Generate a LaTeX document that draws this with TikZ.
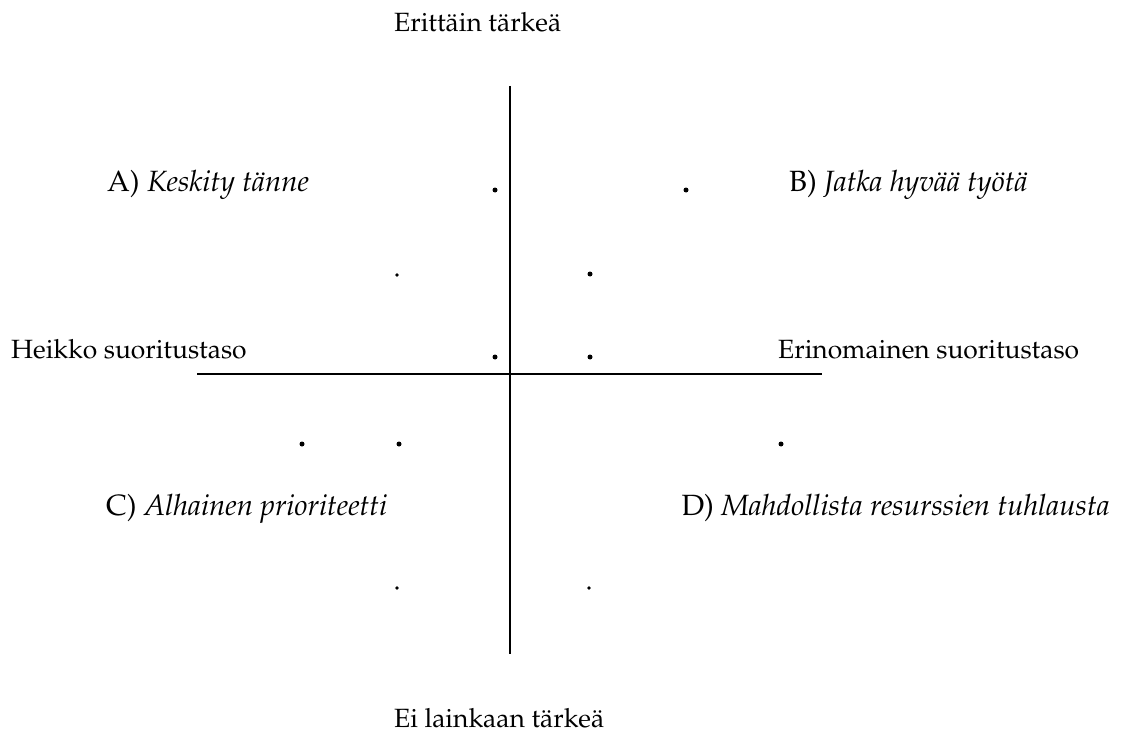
\documentclass[tikz,border=0pt]{standalone}
\usepackage[T1]{fontenc}
\usepackage{mathpazo}
\begin{document}
\begin{tikzpicture}[x=1pt,y=-1pt,
  axislbl/.style={inner sep=0pt, font=\fontsize{26.4}{31}\selectfont},
  quadlbl/.style={inner sep=0pt, font=\fontsize{29.3}{35}\selectfont},
  axisline/.style={line width=1.6pt, black},
  bigdot/.style={circle, fill=black, inner sep=0pt, minimum size=5pt},
  smalldot/.style={circle, fill=black, inner sep=0pt, minimum size=3.8pt}]
\useasboundingbox (0,0) rectangle (1122,733);

% axes
\coordinate (vtop) at (510,86);
\coordinate (vbot) at (510,654);
\coordinate (hleft) at (197,374);
\coordinate (hright) at (822,374);
\draw[axisline] (vtop) -- (vbot);
\draw[axisline] (hleft) -- (hright);

% axis labels
\node[axislbl, anchor=base west] (top) at (394,32) {Erittäin tärkeä};
\node[axislbl, anchor=base west] (bottom) at (394,727) {Ei lainkaan tärkeä};
\node[axislbl, anchor=base west] (left) at (11,358) {Heikko suoritustaso};
\node[axislbl, anchor=base west] (right) at (778,358) {Erinomainen suoritustaso};

% quadrant labels
\node[quadlbl, anchor=base west] (qa) at (107,191) {A) \textit{Keskity tänne}};
\node[quadlbl, anchor=base west] (qb) at (789,191) {B) \textit{Jatka hyvää työtä}};
\node[quadlbl, anchor=base west] (qc) at (106,515) {C) \textit{Alhainen prioriteetti}};
\node[quadlbl, anchor=base east] (qd) at (1110,515) {D) \textit{Mahdollista resurssien tuhlausta}};

% data points
\node[bigdot] (p1) at (495,190) {};
\node[bigdot] (p2) at (686,190) {};
\node[smalldot] (p3) at (397,275) {};
\node[bigdot] (p4) at (590,274) {};
\node[bigdot] (p5) at (495,357) {};
\node[bigdot] (p6) at (590,357) {};
\node[bigdot] (p7) at (302,444) {};
\node[bigdot] (p8) at (399,444) {};
\node[bigdot] (p9) at (781,444) {};
\node[smalldot] (p10) at (397,588) {};
\node[smalldot] (p11) at (589,588) {};
\end{tikzpicture}
\end{document}
